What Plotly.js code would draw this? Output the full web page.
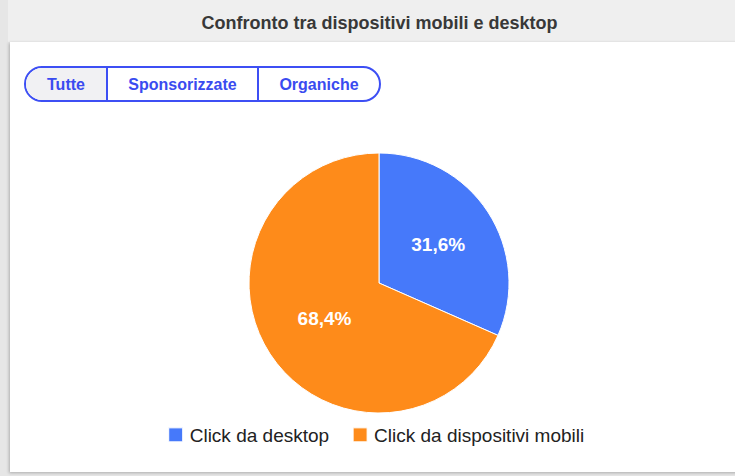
<!DOCTYPE html>
<html>
<head>
<meta charset="utf-8">
<script src="https://cdn.plot.ly/plotly-3.0.1.min.js"></script>
<style>
  html, body { margin: 0; padding: 0; width: 735px; height: 476px; overflow: hidden; background: #ffffff; font-family: "Liberation Sans", Arial, Helvetica, sans-serif; }
  #frame { position: absolute; left: 0; top: 0; width: 735px; height: 476px; background: #e6e6e6; }
  #header { position: absolute; left: 8px; top: 0; width: 727px; height: 42px; background: #efefef; }
  #header span { position: absolute; left: 0; width: 743px; top: 13px; text-align: center; font-weight: bold; font-size: 18px; color: #383838; }
  #card { position: absolute; left: 10px; top: 42px; width: 730px; height: 430px; background: #ffffff; box-shadow: -1px 1px 3px rgba(0,0,0,0.25); }
  #chart { position: absolute; left: 0; top: 0; width: 735px; height: 476px; }
  #buttons { position: absolute; left: 24px; top: 66px; height: 32px; display: flex; border: 2px solid #3d4ff4; border-radius: 18px; overflow: hidden; z-index: 5; background: #fff; }
  #buttons div { font-weight: bold; font-size: 16px; color: #3a4bf0; line-height: 33px; text-align: center; }
  #buttons div + div { border-left: 2px solid #3d4ff4; }
</style>
</head>
<body>
<div id="frame"></div>
<div id="header"><span>Confronto tra dispositivi mobili e desktop</span></div>
<div id="card"></div>
<div id="chart"></div>
<div id="buttons">
  <div style="width:80px;background:#f1f1f3;">Tutte</div>
  <div style="width:149px;">Sponsorizzate</div>
  <div style="width:120px;">Organiche</div>
</div>
<script>
const categories = ["Click da desktop", "Click da dispositivi mobili"];
const values = [31.6, 68.4];
const colors = ["#4679fa", "#fe8b1a"];

const W = 735, H = 476;
const cx = 379, cy = 283, r = 130;

Plotly.newPlot("chart", [{
  type: "pie",
  labels: categories,
  values: values,
  sort: false,
  direction: "clockwise",
  rotation: 0,
  marker: { colors: colors, line: { color: "#ffffff", width: 1 } },
  texttemplate: "<b>%{percent:.1%}</b>",
  textposition: "inside",
  insidetextorientation: "horizontal",
  textfont: { color: "#ffffff", size: 19, family: "Liberation Sans, Arial, sans-serif" },
  hoverinfo: "label+percent",
  domain: { x: [(cx - r) / W, (cx + r) / W], y: [(H - cy - r) / H, (H - cy + r) / H] }
}], {
  width: W, height: H,
  margin: { l: 0, r: 0, t: 0, b: 0 },
  paper_bgcolor: "rgba(0,0,0,0)",
  plot_bgcolor: "rgba(0,0,0,0)",
  separators: ",.",
  showlegend: true,
  legend: {
    orientation: "h",
    x: 0.503, xanchor: "center",
    y: (H - 435) / H, yanchor: "middle",
    font: { size: 19, color: "#222222", family: "Liberation Sans, Arial, sans-serif" },
    itemwidth: 30,
    traceorder: "normal"
  }
}, { displayModeBar: false, staticPlot: true }).then(function () {
  document.querySelectorAll("#chart .legendpoints path").forEach(function (p) {
    p.setAttribute("d", "M13,7H-1V-7H13Z");
  });
});
</script>
</body>
</html>
